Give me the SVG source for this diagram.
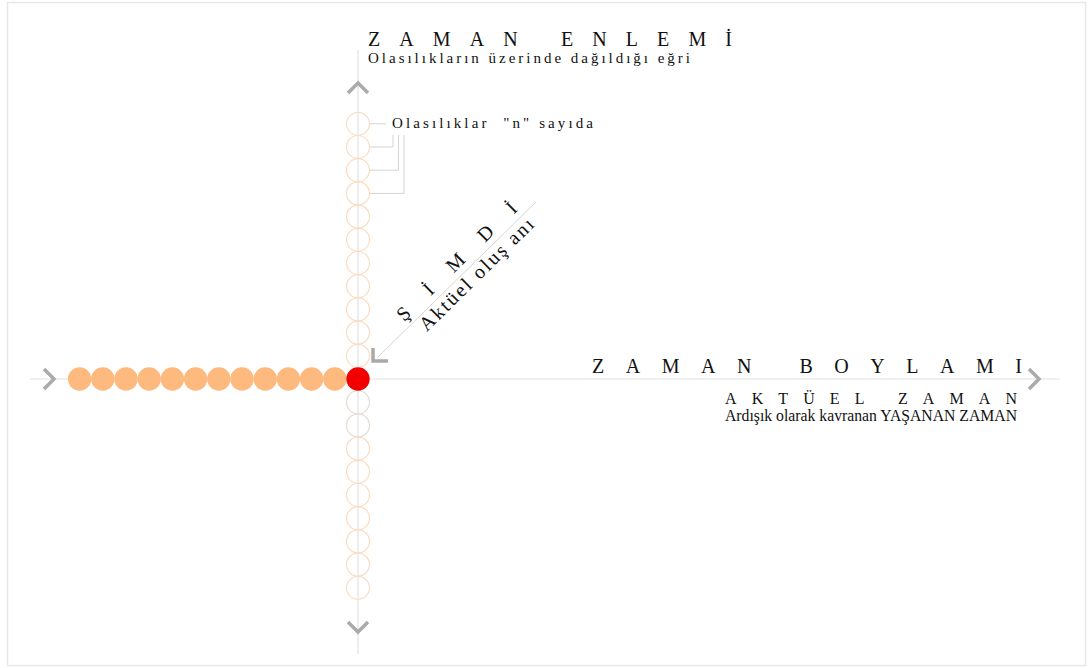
<svg xmlns="http://www.w3.org/2000/svg" width="1088" height="668" viewBox="0 0 1088 668">
<style>
.serif{font-family:"Liberation Serif","Times New Roman",serif;fill:#111111}
.axis{stroke:#e2e2e2;stroke-width:1.2;fill:none}
.thin{stroke:#d4d4d4;stroke-width:1;fill:none}
.chev{stroke:#aaaaaa;stroke-width:3.5;fill:none;stroke-linecap:butt}
.open{fill:none;stroke:#fbdcc2;stroke-width:1.2}
.open2{fill:none;stroke:#e6dcd4;stroke-width:1.2}
.full{fill:#fdb97e}
</style>
<rect x="7.5" y="2.5" width="1078" height="663" fill="#ffffff" stroke="#e8e8e8" stroke-width="1.5"/>
<g id="connectors">
<line class="axis" x1="30" y1="379" x2="1060" y2="379"/>
<line class="axis" x1="358" y1="50" x2="358" y2="654"/>
<polyline class="chev" points="348,93 358,83 368,93"/>
<polyline class="chev" points="348,622 358,632 368,622"/>
<polyline class="chev" points="44,369 54,379 44,389"/>
<polyline class="chev" points="1029,369 1039,379 1029,389"/>
<line class="thin" x1="378" y1="357" x2="536" y2="202"/>
<polyline class="chev" points="373,348 373,361 388,361" stroke-width="3"/>
<line class="thin" x1="370" y1="123.8" x2="386" y2="123.8"/>
<polyline class="thin" points="370,147 393,147 393,135"/>
<polyline class="thin" points="370,170.2 398.5,170.2 398.5,135"/>
<polyline class="thin" points="370,193.4 404,193.4 404,135"/>
</g>
<g id="vertical-circles">
<circle class="open" cx="358" cy="123.8" r="11.5"/>
<circle class="open" cx="358" cy="147" r="11.5"/>
<circle class="open" cx="358" cy="170.2" r="11.5"/>
<circle class="open" cx="358" cy="193.4" r="11.5"/>
<circle class="open" cx="358" cy="216.6" r="11.5"/>
<circle class="open" cx="358" cy="239.8" r="11.5"/>
<circle class="open" cx="358" cy="263" r="11.5"/>
<circle class="open" cx="358" cy="286.2" r="11.5"/>
<circle class="open" cx="358" cy="309.4" r="11.5"/>
<circle class="open" cx="358" cy="332.6" r="11.5"/>
<circle class="open" cx="358" cy="355.8" r="11.5"/>
<circle class="open2" cx="358" cy="402.2" r="11.5"/>
<circle class="open2" cx="358" cy="425.4" r="11.5"/>
<circle class="open" cx="358" cy="448.6" r="11.5"/>
<circle class="open" cx="358" cy="471.8" r="11.5"/>
<circle class="open" cx="358" cy="495" r="11.5"/>
<circle class="open" cx="358" cy="518.2" r="11.5"/>
<circle class="open" cx="358" cy="541.4" r="11.5"/>
<circle class="open" cx="358" cy="564.6" r="11.5"/>
<circle class="open" cx="358" cy="587.8" r="11.5"/>
</g>
<g id="horizontal-circles">
<circle class="full" cx="79.6" cy="379" r="11.7"/>
<circle class="full" cx="102.8" cy="379" r="11.7"/>
<circle class="full" cx="126" cy="379" r="11.7"/>
<circle class="full" cx="149.2" cy="379" r="11.7"/>
<circle class="full" cx="172.4" cy="379" r="11.7"/>
<circle class="full" cx="195.6" cy="379" r="11.7"/>
<circle class="full" cx="218.8" cy="379" r="11.7"/>
<circle class="full" cx="242" cy="379" r="11.7"/>
<circle class="full" cx="265.2" cy="379" r="11.7"/>
<circle class="full" cx="288.4" cy="379" r="11.7"/>
<circle class="full" cx="311.6" cy="379" r="11.7"/>
<circle class="full" cx="334.8" cy="379" r="11.7"/>
</g>
<g id="now-point">
<circle cx="358" cy="379" r="11.7" fill="#f20000"/>
</g>
<g id="zaman-enlemi">
<text class="serif" x="368" y="46" font-size="20" textLength="364" lengthAdjust="spacing">ZAMAN ENLEMİ</text>
<text class="serif" x="368" y="63" font-size="15" textLength="322" lengthAdjust="spacing">Olasılıkların üzerinde dağıldığı eğri</text>
</g>
<g id="olasiliklar">
<text class="serif" x="392" y="128" font-size="15" textLength="201" lengthAdjust="spacing" xml:space="preserve">Olasılıklar  "n" sayıda</text>
</g>
<g id="simdi">
<g transform="translate(375,358) rotate(-44.5)">
<text class="serif" x="46" y="-5" font-size="20" textLength="160" lengthAdjust="spacing">ŞİMDİ</text>
<text class="serif" x="55" y="18" font-size="20" textLength="152" lengthAdjust="spacing">Aktüel oluş anı</text>
</g>
</g>
<g id="zaman-boylami">
<text class="serif" x="592" y="373" font-size="20" textLength="430" lengthAdjust="spacing">ZAMAN BOYLAMI</text>
<text class="serif" x="725" y="404" font-size="16" textLength="292" lengthAdjust="spacing">AKTÜEL ZAMAN</text>
<text class="serif" x="725" y="421" font-size="17" textLength="292" lengthAdjust="spacingAndGlyphs">Ardışık olarak kavranan YAŞANAN ZAMAN</text>
</g>
</svg>
